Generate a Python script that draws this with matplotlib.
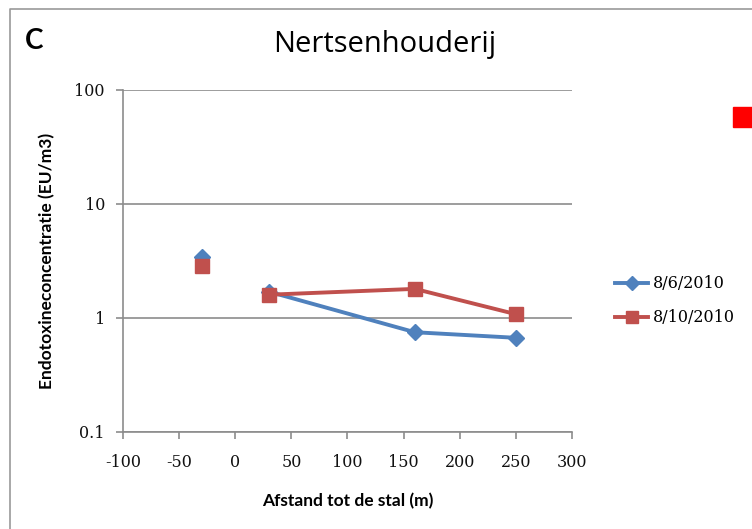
import matplotlib
matplotlib.use('Agg')
import matplotlib.pyplot as plt
import matplotlib.ticker as ticker
from matplotlib.lines import Line2D
from matplotlib.patches import Rectangle
import numpy as np

# afstand tot de stal (m) en endotoxine (EU/m3)
afstand = [-30, 30, 160, 250]
datum_1 = '8/6/2010'
datum_2 = '8/10/2010'
endo_1 = [3.45, 1.7, 0.75, 0.67]
endo_2 = [2.85, 1.6, 1.8, 1.08]
y_ticks = [0.1, 1, 10, 100]
x_ticks = [-100, -50, 0, 50, 100, 150, 200, 250, 300]

blauw = '#4F81BD'
rood = '#C0504D'
sans = ['Lato', 'DejaVu Sans']
serif = ['DejaVu Serif']

fig = plt.figure(figsize=(7.52, 5.29), dpi=100)
ax = fig.add_axes([0.1636, 0.1834, 0.5970, 0.6465])

# first point stands apart from the line (no connection in the original)
ax.plot(afstand[0], endo_1[0], marker='D', color=blauw, ms=8, ls='none', zorder=3)
ax.plot(afstand[1:], endo_1[1:], marker='D', color=blauw, ms=8, lw=2.8, zorder=3)
ax.plot(afstand[0], endo_2[0], marker='s', color=rood, ms=10, ls='none', zorder=4)
ax.plot(afstand[1:], endo_2[1:], marker='s', color=rood, ms=10, lw=2.8, zorder=4)

ax.set_yscale('log')
ax.set_ylim(0.1, 100)
ax.set_xlim(-100, 300)
ax.set_yticks(y_ticks)
ax.yaxis.set_major_formatter(ticker.FuncFormatter(lambda v, p: '%g' % v))
ax.yaxis.set_minor_locator(ticker.NullLocator())
ax.set_xticks(x_ticks)
ax.xaxis.set_major_formatter(ticker.FuncFormatter(lambda v, p: '%d' % v))
ax.grid(axis='y', color='#8c8c8c', lw=1.2, zorder=1)

for s in ['top', 'right']:
    ax.spines[s].set_visible(False)
for s in ['left', 'bottom']:
    ax.spines[s].set_color('#8c8c8c')
    ax.spines[s].set_linewidth(1.2)
ax.tick_params(axis='both', direction='out', length=5, color='#8c8c8c', width=1.2)
ax.tick_params(axis='x', pad=11)
ax.tick_params(axis='y', pad=8)
for lab in ax.get_xticklabels() + ax.get_yticklabels():
    lab.set_fontfamily(serif)
    lab.set_fontsize(11.5)
    lab.set_color('#111111')

ax.set_xlabel('Afstand tot de stal (m)', fontsize=12.5, fontweight='bold',
              family=sans, labelpad=16)
ax.set_ylabel('Endotoxineconcentratie (EU/m3)', fontsize=12.5, fontweight='bold',
              family=sans, labelpad=14)

fig.text(0.512, 0.915, 'Nertsenhouderij', fontsize=21, family=['Open Sans', 'DejaVu Sans'],
         ha='center', va='center')
fig.text(0.033, 0.922, 'C', fontsize=20, fontweight='bold', family=sans,
         ha='left', va='center')

# legend drawn by hand to match Excel layout
for yy, kleur, mk, ms, tekst in [(0.465, blauw, 'D', 7, datum_1),
                                 (0.40, rood, 's', 9, datum_2)]:
    fig.add_artist(Line2D([0.818, 0.862], [yy, yy], color=kleur, lw=2.8,
                          transform=fig.transFigure))
    fig.add_artist(Line2D([0.840], [yy], marker=mk, color=kleur, ms=ms,
                          transform=fig.transFigure))
    fig.text(0.868, yy, tekst, fontsize=11.5, family=serif, va='center')

# red square top right
fig.add_artist(Rectangle((0.975, 0.76), 0.03, 0.037, color='#ff0000',
                         transform=fig.transFigure))

# chart border
fig.add_artist(Line2D([0.013, 0.013, 1.0], [0.0, 0.983, 0.983], color='#9a9a9a',
                      lw=1.2, transform=fig.transFigure))

fig.savefig('out.png', dpi=100)
